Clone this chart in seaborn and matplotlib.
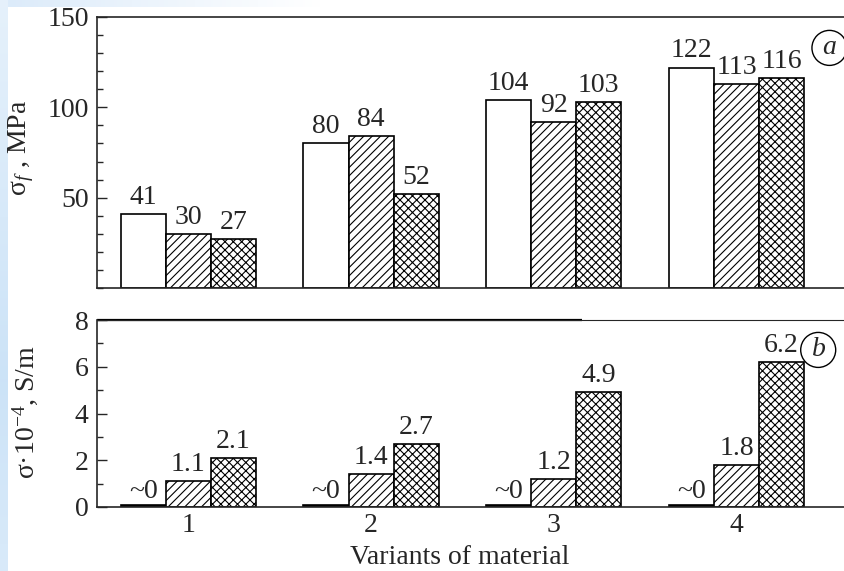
import numpy as np
import pandas as pd
import matplotlib
matplotlib.use("Agg")
import matplotlib.pyplot as plt
from matplotlib.ticker import MultipleLocator
import seaborn as sns

# ---- data ----
variants = ["1", "2", "3", "4"]
series = ["s1", "s2", "s3"]
strength_s1 = [41, 80, 104, 122]
strength_s2 = [30, 84, 92, 113]
strength_s3 = [27, 52, 103, 116]
cond_s1 = [0.08, 0.08, 0.08, 0.08]          # "~0"
cond_s2 = [1.1, 1.4, 1.2, 1.8]
cond_s3 = [2.1, 2.7, 4.9, 6.2]
cond_s1_labels = ["~0", "~0", "~0", "~0"]

sns.set_style("ticks")
plt.rcParams["font.family"] = ["Liberation Serif", "DejaVu Serif"]
plt.rcParams["mathtext.fontset"] = "custom"
plt.rcParams["mathtext.rm"] = "Liberation Serif"
plt.rcParams["mathtext.it"] = "Liberation Serif:italic"
plt.rcParams["hatch.linewidth"] = 0.8
plt.rcParams["axes.linewidth"] = 1.2

FS = 20


def long_df(a, b, c):
    rows = []
    for s, vals in zip(series, [a, b, c]):
        for v, val in zip(variants, vals):
            rows.append({"variant": v, "series": s, "value": val})
    return pd.DataFrame(rows)


df_top = long_df(strength_s1, strength_s2, strength_s3)
df_bot = long_df(cond_s1, cond_s2, cond_s3)

W, H = 845, 571
fig = plt.figure(figsize=(W / 100, H / 100), dpi=100)

# background frame (light blue strips)
bg = fig.add_axes([0, 0, 1, 1], zorder=-10)
img = np.ones((H, W, 3))
blue_top = np.array([0.86, 0.92, 0.98])
blue_left = np.array([0.80, 0.89, 0.97])
for x in range(W):
    t = min(1.0, x / 320.0)
    img[:7, x, :] = blue_top * (1 - t) + np.ones(3) * t
for y in range(H):
    t = abs(y - 380) / 380.0
    img[y, :8, :] = blue_left * (1 - 0.5 * t) + np.ones(3) * 0.5 * t
bg.imshow(img, extent=[0, 1, 0, 1], aspect="auto")
bg.axis("off")

left = 97 / W
width = 1.0 - left + 0.002
ax1 = fig.add_axes([left, 1 - 288 / H, width, (288 - 17) / H])
ax2 = fig.add_axes([left, 1 - 507 / H, width, (507 - 320) / H])

xmax = -0.5 + (W - 97) / 182.3

for ax, df, ylim in [(ax1, df_top, (0, 150)), (ax2, df_bot, (0, 8))]:
    sns.barplot(data=df, x="variant", y="value", hue="series", ax=ax,
                palette=["white", "white", "white"], width=0.74,
                edgecolor="black", linewidth=1.2, legend=False,
                errorbar=None, saturation=1)
    hatches = ["", "////", "xxxx"]
    for cont, h in zip(ax.containers, hatches):
        for p in cont:
            p.set_hatch(h)
            p.set_edgecolor("black")
    ax.set_xlim(-0.5, xmax)
    ax.set_ylim(*ylim)
    ax.spines["right"].set_visible(False)
    ax.set_xlabel("")
    ax.set_ylabel("")
    ax.tick_params(axis="y", which="both", direction="in", labelsize=FS,
                   pad=6, width=1.0)
    ax.tick_params(axis="y", which="major", length=7)
    ax.tick_params(axis="y", which="minor", length=4)
    ax.set_facecolor("white")

# top panel
ax1.yaxis.set_major_locator(MultipleLocator(50))
ax1.yaxis.set_minor_locator(MultipleLocator(10))
ax1.set_yticks([50, 100, 150])
ax1.tick_params(axis="x", which="both", length=0, labelbottom=False)
for cont, vals in zip(ax1.containers, [strength_s1, strength_s2, strength_s3]):
    ax1.bar_label(cont, labels=[str(v) for v in vals], padding=3, fontsize=FS)
ax1.text(0.977, 0.886, "$\\it{a}$", transform=ax1.transAxes, fontsize=FS,
         ha="center", va="center",
         bbox=dict(boxstyle="circle,pad=0.18", fc="white", ec="black", lw=1.0))
ax1.set_ylabel("σ$_{f}$ , MPa", fontsize=FS)
ax1.yaxis.set_label_coords(36 / W, 1 - 148 / H, transform=fig.transFigure)

# bottom panel
for cont in ax2.containers[:1]:
    for p in cont:
        p.set_facecolor("black")
ax2.yaxis.set_major_locator(MultipleLocator(2))
ax2.yaxis.set_minor_locator(MultipleLocator(1))
ax2.tick_params(axis="x", which="both", length=0, labelsize=FS, pad=4)
ax2.bar_label(ax2.containers[0], labels=cond_s1_labels, padding=1, fontsize=FS)
ax2.bar_label(ax2.containers[1], labels=[str(v) for v in cond_s2], padding=3, fontsize=FS)
ax2.bar_label(ax2.containers[2], labels=[str(v) for v in cond_s3], padding=3, fontsize=FS)
ax2.spines["top"].set_linewidth(0.8)
ax2.plot([0, (582 - 97) / ((W - 97) + 2)], [1, 1], color="black", lw=1.6,
         transform=ax2.transAxes, clip_on=False, solid_capstyle="butt")
ax2.text(0.962, 0.84, "$\\it{b}$", transform=ax2.transAxes, fontsize=FS,
         ha="center", va="center",
         bbox=dict(boxstyle="circle,pad=0.18", fc="white", ec="black", lw=1.0))
ax2.set_ylabel("σ·10$^{-4}$, S/m", fontsize=FS)
ax2.yaxis.set_label_coords(40 / W, 1 - 412 / H, transform=fig.transFigure)
ax2.set_xlabel("Variants of material", fontsize=FS)
ax2.xaxis.set_label_coords(460 / W, 1 - 545 / H, transform=fig.transFigure)
ax2.xaxis.label.set_va("top")

fig.savefig("out.png", dpi=100)
